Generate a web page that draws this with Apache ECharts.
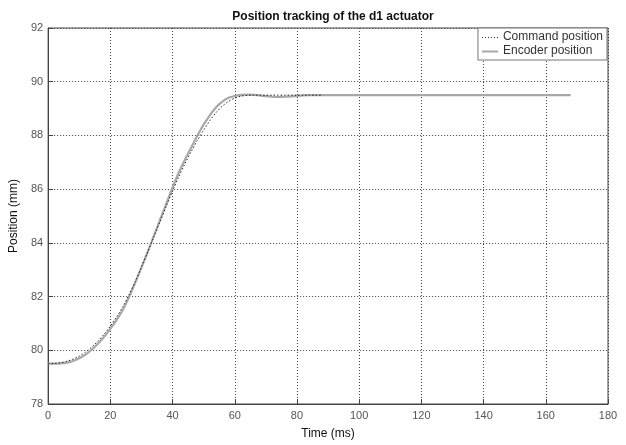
<!DOCTYPE html>
<html>
<head>
<meta charset="utf-8">
<script src="https://cdn.jsdelivr.net/npm/echarts@6/dist/echarts.min.js"></script>
<style>html,body{margin:0;padding:0;background:#fff;}#c{width:626px;height:445px;}</style>
</head>
<body>
<div id="c"></div>
<script>
var titleText = 'Position tracking of the d1 actuator';
var xLabel = 'Time (ms)';
var yLabel = 'Position (mm)';
var legendNames = ['Command position', 'Encoder position'];

var cmdTime = [0,2,4,6,8,10,12,14,16,18,20,22,24,26,28,30,32,34,36,38,40,42,44,46,48,50,52,54,56,58,60,62,64,66,68,70,72,74,76,78,80,82,84,86,88];
var cmdPos  = [79.50,79.51,79.54,79.59,79.67,79.78,79.93,80.12,80.34,80.60,80.90,81.24,81.62,82.06,82.56,83.10,83.66,84.23,84.80,85.37,85.93,86.46,86.95,87.40,87.82,88.20,88.55,88.85,89.09,89.27,89.39,89.46,89.49,89.50,89.50,89.50,89.50,89.50,89.50,89.50,89.50,89.50,89.50,89.50,89.50];

var encTime = [0,2,4,6,8,10,12,14,16,18,20,22,24,26,28,30,32,34,36,38,40,42,44,46,48,50,52,54,56,58,60,62,64,66,68,70,72,74,76,78,80,82,84,86,88,100,120,140,160,168];
var encPos  = [79.50,79.50,79.51,79.54,79.60,79.70,79.84,80.02,80.24,80.50,80.80,81.13,81.50,81.98,82.52,83.08,83.66,84.26,84.86,85.46,86.06,86.62,87.10,87.55,88.00,88.40,88.75,89.05,89.26,89.40,89.47,89.51,89.52,89.51,89.49,89.46,89.44,89.43,89.44,89.45,89.47,89.49,89.50,89.50,89.50,89.50,89.50,89.50,89.50,89.50];

function pairs(xs, ys){ return xs.map(function(x,i){ return [x, ys[i]]; }); }

var dotIcon = 'path://M0,0M16,8M0,4h1v1h-1zM3,4h1v1h-1zM6,4h1v1h-1zM9,4h1v1h-1zM12,4h1v1h-1zM15,4h1v1h-1z';
var solidIcon = 'path://M0,0M16,8M0,3.5h16v2h-16z';

var chart = echarts.init(document.getElementById('c'), null, {renderer:'canvas'});
var font = 'Arial, "Liberation Sans", sans-serif';
chart.setOption({
  animation: false,
  backgroundColor: '#fff',
  title: {
    text: titleText, left: 328, top: 6, textAlign: 'center',
    textStyle: {fontFamily: font, fontSize: 12, fontWeight: 'bold', color: '#111'}
  },
  legend: {
    right: 19, top: 28, orient: 'vertical', itemGap: 2,
    padding: [3, 4, 3, 4],
    backgroundColor: '#fff', borderColor: '#777', borderWidth: 1, borderRadius: 0,
    itemWidth: 16, itemHeight: 8,
    textStyle: {fontFamily: font, fontSize: 12, color: '#333'},
    data: [
      {name: legendNames[0], icon: dotIcon, itemStyle: {color: '#222', borderWidth: 0}},
      {name: legendNames[1], icon: solidIcon, itemStyle: {color: '#a8a8a8', borderWidth: 0}}
    ]
  },
  grid: {left: 47, right: 18, top: 28, bottom: 35, show: true, borderColor: '#444', borderWidth: 1, backgroundColor: '#fff'},
  xAxis: {
    type: 'value', min: 0, max: 180, interval: 20,
    name: xLabel, nameLocation: 'middle', nameGap: 24,
    nameTextStyle: {fontFamily: font, fontSize: 12, color: '#111'},
    axisLine: {show: true, lineStyle: {color: '#444'}},
    axisTick: {show: true, inside: true, length: 5, lineStyle: {color: '#444'}},
    axisLabel: {fontFamily: font, fontSize: 11, color: '#555', margin: 6},
    splitLine: {show: true, lineStyle: {color: '#444', type: [1, 2], width: 1}}
  },
  yAxis: {
    type: 'value', min: 78, max: 92, interval: 2,
    name: yLabel, nameLocation: 'middle', nameGap: 26, nameRotate: 90,
    nameTextStyle: {fontFamily: font, fontSize: 12, color: '#111'},
    axisLine: {show: true, lineStyle: {color: '#444'}},
    axisTick: {show: true, inside: true, length: 5, lineStyle: {color: '#444'}},
    axisLabel: {fontFamily: font, fontSize: 11, color: '#555', margin: 5},
    splitLine: {show: true, lineStyle: {color: '#444', type: [1, 2], width: 1}}
  },
  series: [
    {
      name: legendNames[1], type: 'line', data: pairs(encTime, encPos), smooth: 0.3,
      showSymbol: false, symbol: 'none',
      lineStyle: {color: '#a8a8a8', width: 2.2}, itemStyle: {color: '#a8a8a8'}, z: 2
    },
    {
      name: legendNames[0], type: 'line', data: pairs(cmdTime, cmdPos), smooth: 0.3,
      showSymbol: false, symbol: 'none',
      lineStyle: {color: '#222', width: 1, type: [1.5, 2]}, itemStyle: {color: '#222'}, z: 3
    }
  ]
});
</script>
</body>
</html>
